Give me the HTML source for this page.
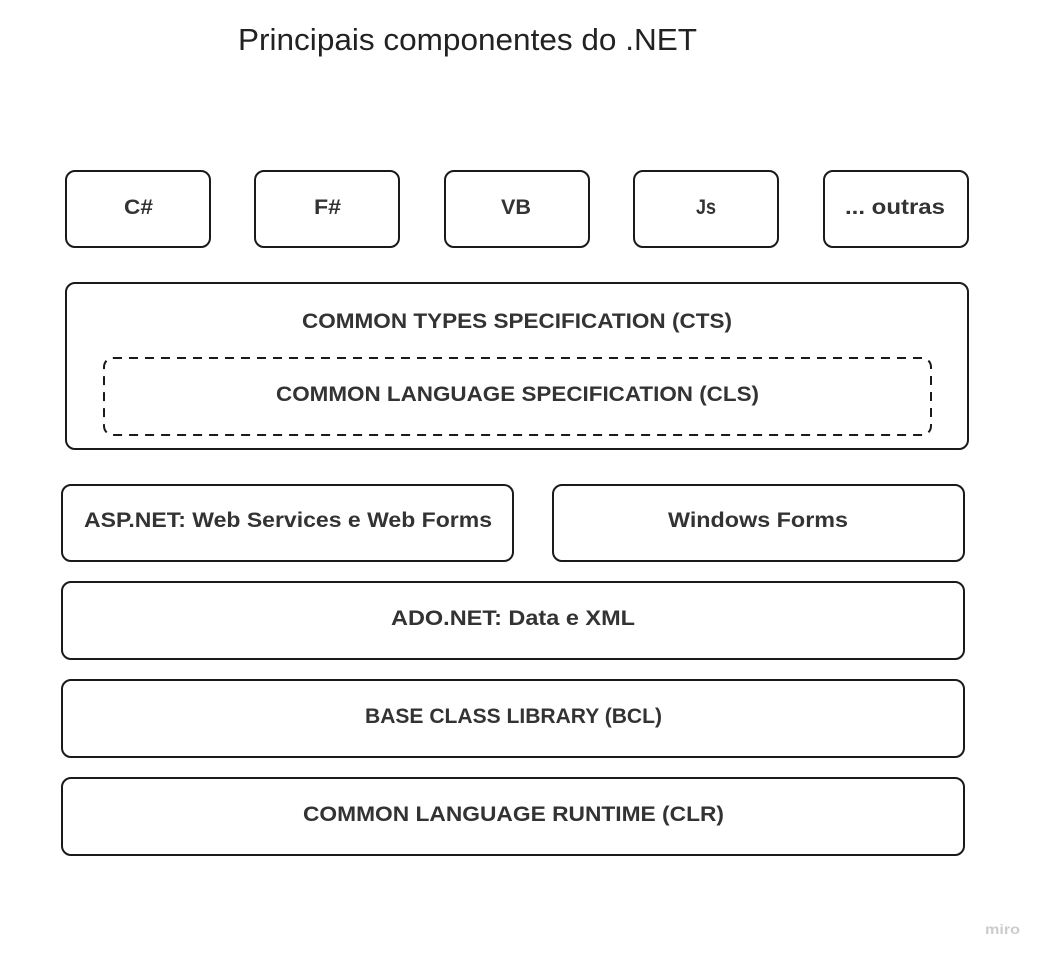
<!DOCTYPE html>
<html><head><meta charset="utf-8"><style>
html,body{margin:0;padding:0;background:#fff;}
svg{display:block;}
text{font-family:"Liberation Sans",sans-serif;}
.b{font-weight:bold;font-size:21px;fill:#333;}
</style></head><body>
<svg width="1043" height="958" viewBox="0 0 1043 958" xmlns="http://www.w3.org/2000/svg">
<text x="238" y="50" font-size="31" fill="#222" textLength="459" lengthAdjust="spacingAndGlyphs">Principais componentes do .NET</text>
<g fill="#fff" stroke="#1a1a1a" stroke-width="2">
<rect x="66" y="171" width="144" height="76" rx="9"/>
<rect x="255" y="171" width="144" height="76" rx="9"/>
<rect x="445" y="171" width="144" height="76" rx="9"/>
<rect x="634" y="171" width="144" height="76" rx="9"/>
<rect x="824" y="171" width="144" height="76" rx="9"/>
<rect x="66" y="283" width="902" height="166" rx="9"/>
<rect x="104" y="358" width="827" height="77" rx="9" stroke-dasharray="9,7"/>
<rect x="62" y="485" width="451" height="76" rx="9"/>
<rect x="553" y="485" width="411" height="76" rx="9"/>
<rect x="62" y="582" width="902" height="77" rx="9"/>
<rect x="62" y="680" width="902" height="77" rx="9"/>
<rect x="62" y="778" width="902" height="77" rx="9"/>
</g>
<g class="b">
<text x="124" y="214" textLength="29" lengthAdjust="spacingAndGlyphs">C#</text>
<text x="314" y="214" textLength="27" lengthAdjust="spacingAndGlyphs">F#</text>
<text x="501" y="214" textLength="30" lengthAdjust="spacingAndGlyphs">VB</text>
<text x="696" y="214" textLength="20" lengthAdjust="spacingAndGlyphs">Js</text>
<text x="845" y="214" textLength="100" lengthAdjust="spacingAndGlyphs">... outras</text>
<text x="302" y="328" textLength="430" lengthAdjust="spacingAndGlyphs">COMMON  TYPES SPECIFICATION (CTS)</text>
<text x="276" y="401" textLength="483" lengthAdjust="spacingAndGlyphs">COMMON LANGUAGE SPECIFICATION (CLS)</text>
<text x="84" y="527" textLength="408" lengthAdjust="spacingAndGlyphs">ASP.NET: Web Services e Web Forms</text>
<text x="668" y="527" textLength="180" lengthAdjust="spacingAndGlyphs">Windows Forms</text>
<text x="391" y="625" textLength="244" lengthAdjust="spacingAndGlyphs">ADO.NET: Data e XML</text>
<text x="365" y="723" textLength="297" lengthAdjust="spacingAndGlyphs">BASE CLASS LIBRARY (BCL)</text>
<text x="303" y="821" textLength="421" lengthAdjust="spacingAndGlyphs">COMMON LANGUAGE RUNTIME (CLR)</text>
</g>
<text x="985" y="934" font-size="14" font-weight="bold" fill="#ccc" textLength="35" lengthAdjust="spacingAndGlyphs">miro</text>
</svg>
</body></html>
